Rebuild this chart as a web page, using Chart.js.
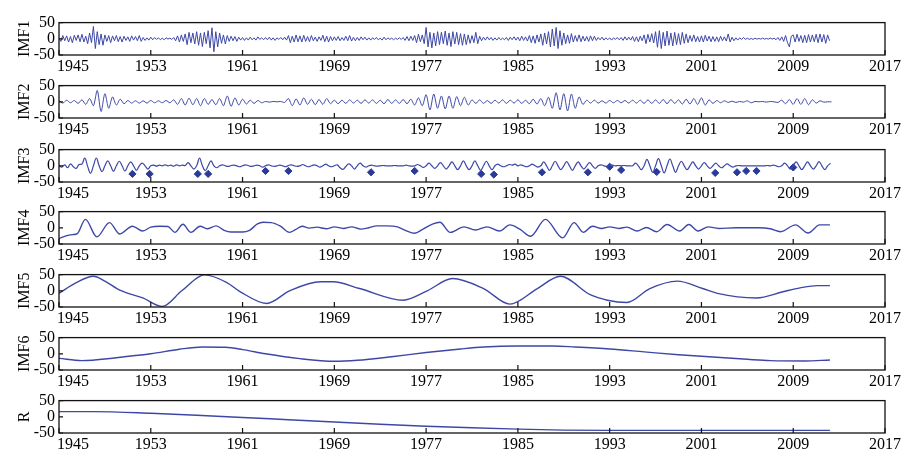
<!DOCTYPE html>
<html><head><meta charset="utf-8">
<script src="https://cdn.jsdelivr.net/npm/chart.js@4.4.1/dist/chart.umd.min.js"></script>
<style>
html,body{margin:0;padding:0;background:#fff;}
#wrap{position:relative;width:909px;height:455px;overflow:hidden;background:#fff;}
canvas{position:absolute;left:0;}
</style></head><body><div id="wrap"></div>
<script>
// ---------- data ----------
const xTickYears = [1945,1953,1961,1969,1977,1985,1993,2001,2009,2017];
const yTickValues = [-50,0,50];
const panelLabels = ['IMF1','IMF2','IMF3','IMF4','IMF5','IMF6','R'];

// IMF1: 6 samples per year from 1945
const imf1Start = 1945, imf1PerYear = 6;
const imf1 = [
 3,-8,10,-6,9,-10,   7,-12,11,-5,12,-9,   14,-10,8,-15,18,-12,  38,-30,22,-18,15,-20,
 12,-8,10,-12,9,-6,  10,-9,7,-10,8,-5,    6,-8,9,-4,7,-6,       10,-8,4,-5,3,-4,
 5,-3,4,-2,3,-3,     2,-3,3,-1,2,-2,      4,-6,9,-10,12,-8,     15,-18,20,-12,18,-16,
 22,-20,18,-24,20,-15, 25,-28,34,-40,22,-25, 18,-14,12,-16,10,-8, 8,-6,7,-8,5,-4,
 4,-5,3,-4,5,-3,     3,-4,6,-2,3,-3,      4,-3,5,-4,3,-5,       3,-2,4,-3,5,-4,
 10,-12,8,-10,12,-9, 9,-10,11,-8,7,-9,    10,-6,5,-8,6,-5,      11,-9,8,-10,7,-6,
 6,-5,7,-6,4,-5,     8,-6,10,-7,5,-6,     4,-5,6,-3,5,-4,       3,-4,3,-2,4,-3,
 2,-4,5,-3,3,-2,     2,-3,2,-2,3,-2,      4,-5,7,-6,8,-5,       10,-12,14,-9,12,-15,
 35,-25,20,-28,18,-22, 22,-18,20,-15,24,-20, 18,-24,22,-16,20,-18, 16,-20,15,-18,12,-14,
 10,-12,20,-15,8,-6, 5,-4,6,-3,4,-5,      3,-4,4,-3,2,-3,       4,-5,5,-3,6,-4,
 5,-6,8,-5,6,-7,     10,-12,9,-14,12,-10, 15,-20,18,-16,22,-25, 30,-22,35,-30,25,-20,
 18,-15,12,-14,16,-10, 10,-8,12,-9,8,-7,  7,-8,9,-6,8,-5,       4,-3,5,-4,3,-3,
 3,-4,3,-2,4,-3,     4,-5,6,-4,5,-4,      7,-8,6,-9,8,-6,       12,-15,14,-10,16,-13,
 22,-26,25,-30,20,-22, 24,-20,18,-22,20,-18, 16,-18,20,-14,15,-12, 10,-8,12,-9,7,-10,
 9,-10,11,-7,8,-9,   7,-8,6,-9,8,-6,      6,-7,15,-10,5,-6,     3,-4,3,-2,4,-2,
 2,-2,1,-2,2,-1,     1,-1,2,-1,1,-1,      2,-1,2,-3,4,-5,       6,-8,10,-12,-25,8,
 12,-10,14,-8,10,-12, 11,-12,13,-10,12,-9, 14,-12,15,-10,13,-14, 12,-6
];

// IMF2: 3 samples per year from 1945
const imf2Start = 1945, imf2PerYear = 3;
const imf2 = [
 3,-4,5, -3,4,-5, 6,-8,10, -12,35,-30, 25,-20,15, -10,8,-6, 4,-4,3, -4,3,-4,
 4,-3,3, -3,4,-3, 6,-8,10, -10,11,-9, 10,-12,10, -8,7,-9, 10,-12,18, -14,12,-10,
 8,-7,5, -5,4,-3, 1,-1,1, 0,1,-2, 10,-12,9, -10,12,-8, 8,-9,7, -8,10,-6,
 5,-6,5, -5,6,-4, 5,-5,6, -4,6,-5, 5,-6,7, -5,6,-5, 7,-6,8, -10,12,-12,
 22,-25,24, -20,18,-22, 18,-20,16, -12,14,-10, 6,-5,6, -5,4,-5, 5,-4,6, -5,5,-4,
 6,-5,5, -6,8,-7, 10,-12,14, -20,28,-25, 25,-28,24, -20,15,-8, 5,-4,5, -4,3,-4,
 4,-3,4, -3,4,-4, 5,-4,5, -5,6,-5, 6,-5,7, -6,7,-5, 6,-7,8, -7,10,-8,
 12,-10,6, -5,4,-3, 3,-2,2, -2,1,-1, 3,-3,1, 0,1,-1, 1,0,-2, 5,-6,7,
 -8,10,-8, 10,-9,6, -4,3,-1, 0,0
];

// IMF3: 4 samples per year from 1945
const imf3Start = 1945, imf3PerYear = 4;
const imf3 = [
 0,-4,3,-6, 6,-3,-8,4, 5,24,-2,-23, 0,24,0,-18, 0,15,0,-17, 0,14,0,-16, 0,12,0,-14, 0,8,0,-10,
 0,2,-1,2, 0,3,0,2, -1,3,0,2, 1,10,0,-10, 0,24,0,-15, 0,15,0,-6, 0,3,0,-2, 1,2,0,-3,
 0,3,1,-2, 0,2,0,-4, 0,3,0,-2, 0,2,0,-3, 1,3,0,-2, 0,4,0,-3, 0,3,0,-4, 0,5,0,-3,
 0,3,-6,-11, -2,6,0,-10, 0,8,0,-4, 0,2,0,-1, 0,1,0,0, 0,1,0,0, 0,2,0,-1, 0,4,0,-5,
 0,8,0,-8, 0,10,0,-10, 0,12,0,-12, 0,15,0,-12, 0,15,0,-14, 0,14,0,-12, 0,5,0,-3, 0,4,2,5,
 0,3,0,-3, 0,5,0,-4, 0,12,0,-14, 0,14,0,-12, 0,13,0,-14, 0,12,0,-10, 0,10,0,-8, 0,3,0,-2,
 1,2,0,1, 0,1,0,0, 0,8,0,-12, 0,20,0,-20, 0,22,0,-22, 0,21,0,-20, 0,14,0,-12, 0,12,0,-10,
 0,10,0,-8, 0,8,0,-6, 0,6,0,-4, 0,1,0,0, 0,0,0,0, 0,0,0,1, 0,2,0,-3, 0,8,0,-10,
 0,12,0,-12, 0,12,0,-10, 0,13,0,-12, 0,8
];
// IMF3 event markers (diamonds)
const eventYears  = [1951.4,1952.9,1957.1,1958.0,1963.0,1965.0,1972.2,1976.0,1981.8,1982.9,1987.1,1991.1,1993.0,1994.0,1997.1,2002.2,2004.1,2004.9,2005.8,2009.0];
const eventValues = [-25,-25,-25,-25,-16,-16,-20,-16,-25,-27,-20,-20,-3,-13,-19,-22,-20,-16,-16,-5];

// IMF4
const imf4Years = [1945.0,1945.6,1946.2,1946.6,1947.3,1948.3,1949.4,1950.3,1951.4,1952.3,1953.0,1953.8,1954.5,1955.1,1955.8,1956.5,1957.3,1957.9,1958.7,1959.4,1960.0,1961.0,1961.6,1962.3,1962.8,1963.5,1964.3,1965.1,1965.6,1966.2,1966.8,1967.5,1968.3,1969.0,1969.8,1970.5,1971.3,1972.0,1972.7,1973.6,1974.5,1975.2,1976.0,1976.7,1977.6,1978.2,1979.1,1980.3,1981.3,1982.3,1983.4,1984.3,1985.2,1986.1,1987.4,1988.9,1989.9,1990.7,1991.5,1992.3,1993.0,1993.8,1994.5,1995.4,1996.2,1997.1,1998.0,1999.1,1999.9,2000.7,2001.6,2002.5,2004.0,2006.0,2007.0,2007.9,2009.2,2010.3,2011.3,2012.2];
const imf4Values = [-33,-25,-21,-18,26,-28,16,-19,5,-10,2,5,4,-14,11,-14,5,-3,6,-8,-13,-13,-8,12,17,16,5,-14,-6,5,-1,2,-3,3,-2,3,-4,0,6,6,3,-8,-17,-5,12,17,-14,3,-7,3,-10,9,-5,-26,26,-31,16,-14,5,-2,3,-2,2,-10,1,-12,10,-10,10,-10,3,-2,0,0,-3,-12,9,-16,9,9];

// IMF5
const imf5Years = [1945.0,1946.5,1948.0,1949.0,1950.3,1952.3,1954.0,1955.7,1957.7,1959.6,1960.8,1963.1,1965.1,1967.8,1968.9,1971.2,1975.0,1977.1,1979.3,1982.0,1984.3,1986.7,1988.7,1991.3,1992.8,1994.5,1996.5,1998.9,2001.1,2002.4,2005.8,2008.1,2009.6,2011.1,2012.2];
const imf5Values = [-8,25,45,30,2,-22,-48,0,49,26,-3,-39,0,28,28,7,-29,0,38,7,-41,7,45,-12,-29,-36,7,30,7,-8,-22,-3,9,16,16];

// IMF6
const imf6Years = [1945,1947,1950,1953,1955.5,1957.5,1959.5,1961,1963,1966,1969,1971,1974,1977,1980,1982,1985,1988,1990,1993,1996,1999,2002,2005,2007,2010,2012.2];
const imf6Values = [-14,-21,-12,0,14,21,20,13,0,-15,-23,-20,-9,4,15,21,24,24,21,15,6,-3,-10,-17,-21,-22,-19];

// Residual
const resYears = [1945,1948,1953,1957,1961,1965,1969,1973,1977,1981,1985,1989,1993,2001,2012.2];
const resValues = [16,16,11,5,-2,-9,-16,-23,-29,-34,-38,-41,-42,-42,-42];

// ---------- drawing ----------
const LINE = '#3d48a6';
const FONT = "'Liberation Serif', 'Times New Roman', serif";
const panelTops = [19,82,146,208,271,334,397];
const wrap = document.getElementById('wrap');

function even(arr, start, per){ return arr.map((v,i)=>({x:start+i/per, y:v})); }
function pairs(xs, ys){ return xs.map((x,i)=>({x:x, y:ys[i]})); }

const frame = {
  id:'frame',
  afterDatasetsDraw(chart){
    const {ctx, chartArea:a, scales:{x,y}} = chart;
    ctx.save();
    ctx.strokeStyle='#111'; ctx.lineWidth=1.3;
    ctx.strokeRect(a.left, a.top, a.right-a.left, a.bottom-a.top);
    ctx.lineWidth=1.2;
    ctx.beginPath();
    x.ticks.forEach(t=>{ const px=x.getPixelForValue(t.value); ctx.moveTo(px,a.bottom); ctx.lineTo(px,a.bottom-5); });
    y.ticks.forEach(t=>{ const py=y.getPixelForValue(t.value); ctx.moveTo(a.left,py); ctx.lineTo(a.left+4,py); });
    ctx.stroke();
    ctx.restore();
  }
};

function makePanel(i, datasets){
  const c = document.createElement('canvas');
  c.width = 909; c.height = 68;
  c.style.top = (panelTops[i]-10)+'px';
  wrap.appendChild(c);
  new Chart(c, {
    type:'line',
    data:{datasets:datasets},
    plugins:[frame],
    options:{
      responsive:false, animation:false, devicePixelRatio:1,
      layout:{padding:{top:10,right:24,left:0,bottom:0}},
      plugins:{legend:{display:false}, tooltip:{enabled:false}},
      elements:{point:{radius:0}},
      scales:{
        x:{type:'linear', min:1945, max:2017,
           afterBuildTicks:s=>{ s.ticks = xTickYears.map(v=>({value:v})); },
           afterFit:s=>{ s.height = 22; },
           grid:{display:false, drawTicks:false, tickLength:0}, border:{display:false},
           ticks:{font:{family:FONT,size:16}, color:'#000', padding:2, maxRotation:0, autoSkip:false,
                  callback:v=> v===xTickYears[0] ? '       '+v : String(v)}},
        y:{type:'linear', min:-50, max:50,
           afterBuildTicks:s=>{ s.ticks = yTickValues.map(v=>({value:v})); },
           afterFit:s=>{ s.width = 59; },
           grid:{display:false, drawTicks:false, tickLength:0}, border:{display:false},
           ticks:{font:{family:FONT,size:16}, color:'#000', padding:4, autoSkip:false},
           title:{display:true, text:panelLabels[i], font:{family:FONT,size:16}, color:'#000', padding:{top:15,bottom:0}}}
      }
    }
  });
}

const base = {borderColor:LINE, borderWidth:1, pointRadius:0, fill:false};
const smooth = {borderColor:LINE, borderWidth:1.4, pointRadius:0, fill:false, cubicInterpolationMode:'monotone'};
makePanel(0, [Object.assign({data:even(imf1,imf1Start,imf1PerYear), tension:0}, base)]);
makePanel(1, [Object.assign({data:even(imf2,imf2Start,imf2PerYear), tension:0.3}, base)]);
makePanel(2, [
  Object.assign({data:even(imf3,imf3Start,imf3PerYear), tension:0.4}, base, {borderWidth:1.2}),
  {data:pairs(eventYears,eventValues), showLine:false, pointStyle:'rectRot', pointRadius:3.6,
   backgroundColor:'#2a3a98', borderColor:'#2a3a98', borderWidth:1}
]);
makePanel(3, [Object.assign({data:pairs(imf4Years,imf4Values)}, smooth)]);
makePanel(4, [Object.assign({data:pairs(imf5Years,imf5Values)}, smooth)]);
makePanel(5, [Object.assign({data:pairs(imf6Years,imf6Values)}, smooth)]);
makePanel(6, [Object.assign({data:pairs(resYears,resValues)}, smooth)]);
</script></body></html>
